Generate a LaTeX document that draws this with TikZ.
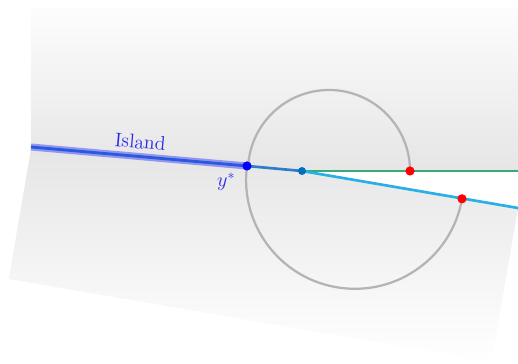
\documentclass[tikz,border=0pt]{standalone}
\usepackage{xcolor}
\usepackage{amsmath}
\usepackage{tikz}
\usetikzlibrary{positioning, calc}
\definecolor{islblue}{RGB}{40,90,220}
\definecolor{islhalo}{RGB}{120,120,245}
\definecolor{midblue}{RGB}{45,125,200}
\definecolor{raygreen}{RGB}{55,170,120}
\definecolor{raycyan}{RGB}{40,175,230}
\definecolor{dotblue}{RGB}{0,110,190}
\definecolor{arcgray}{RGB}{180,180,180}
\definecolor{lblblue}{RGB}{40,40,235}
\tikzset{
  ray/.style={line width=1.9pt},
  arcline/.style={color=arcgray, line width=1.6pt},
  dot/.style={circle, inner sep=0pt, minimum size=0.23cm},
  lbl/.style={color=lblblue, font=\fontsize{14}{16}\selectfont, inner sep=1pt}
}

\begin{document}
\begin{tikzpicture}
  \useasboundingbox (0,0) rectangle (12.95,9.1);
  % points
  \coordinate (isl)   at (0.775,5.425);
  \coordinate (ystar) at (6.175,4.95);
  \coordinate (O)     at (7.55,4.825);
  \coordinate (gEnd)  at (12.95,4.825);
  \coordinate (cEnd)  at (12.95,3.9);
  \coordinate (r1)    at (10.25,4.825);
  \coordinate (r2)    at (11.55,4.13);
  % lower half plane (turned with the cyan ray)
  \shade[shift={(O)}, rotate=-9.72, top color=black!11, bottom color=white]
    (-6.77,0) rectangle (5.48,-3.9);
  % upper half plane
  \shade[top color=black!1, bottom color=black!10]
    (0.775,8.9) -- (12.95,8.9) -- (gEnd) -- (O) -- (ystar) -- (isl) -- cycle;
  % island
  \draw[islhalo, opacity=0.75, line width=5pt] (isl) -- (ystar)
    node[midway, sloped, above=2pt, lbl, opacity=1] (islandlbl) {Island};
  \draw[islblue, line width=2pt] (isl) -- (ystar);
  \draw[ray, midblue] (ystar) -- (O);
  % rays
  \draw[ray, raygreen] (O) -- (gEnd);
  \draw[ray, raycyan] (O) -- (cEnd);
  % circles
  \draw[arcline] (r1) arc[start angle=0, end angle=176.5, radius=2.025];
  \draw[arcline] (ystar) arc[start angle=172.6, end angle=350.1, radius=2.72];
  % dots
  \node[dot, fill=blue] at (ystar) {};
  \node[dot, fill=dotblue, minimum size=0.2cm] at (O) {};
  \foreach \p in {r1, r2} {
     \node[dot, fill=red] at (\p) {};
  }
  \node[lbl] (ystarlbl) at ($(ystar)+(-0.52,-0.4)$) {$y^*$};
\end{tikzpicture}
\end{document}
